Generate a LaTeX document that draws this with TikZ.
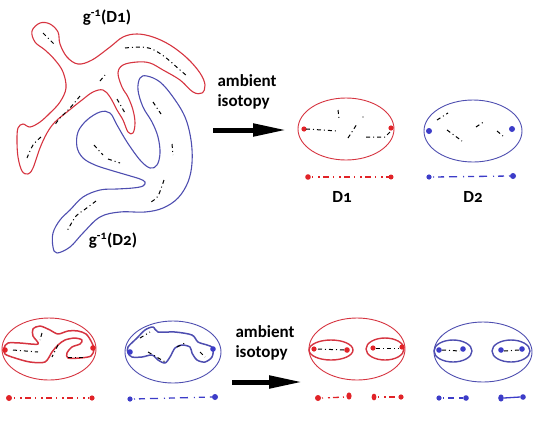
\documentclass[tikz,border=0pt]{standalone}
\usepackage{fontspec}
\setmainfont{Carlito}[Numbers=OldStyle]
\usetikzlibrary{arrows.meta}
\definecolor{dred}{RGB}{214,52,64}
\definecolor{dblue}{RGB}{78,78,176}
\definecolor{ddotred}{RGB}{225,35,40}
\definecolor{ddotblue}{RGB}{60,60,200}
\begin{document}
\begin{tikzpicture}[x=1pt,y=-1pt,
    lbl/.style={font=\fontsize{17}{20}\selectfont\bfseries, inner sep=0pt, align=left},
    redline/.style={draw=dred, line width=1.1pt, line join=round},
    blueline/.style={draw=dblue, line width=1.1pt, line join=round},
    inmark/.style={draw=black, line width=1pt, dash pattern=on 4pt off 3pt on 1pt off 3pt},
    redmark/.style={draw=ddotred, line width=1.3pt, dash pattern=on 1pt off 5pt on 2pt off 3pt on 6pt off 4pt},
    bluemark/.style={draw=ddotblue, line width=1.3pt, dash pattern=on 1pt off 4pt on 6pt off 5pt on 8pt off 6pt},
    bigarrow/.style={line width=5pt, -{Triangle[length=34pt,width=12pt]}}]
    \useasboundingbox (0,0) rectangle (540,421);
    % g^-1(D1)
    \draw[redline] plot[smooth cycle, tension=0.6] coordinates {(32,31) (40,23) (50,24) (58,32) (60,44) (67,57) (78,64) (92,60) (110,47) (123,37) (137,34) (153,37) (170,45) (187,58) (200,73) (205,85) (202,93) (193,92) (180,80) (163,70) (150,63) (137,62) (123,65) (118,73) (122,87) (128,97) (133,110) (135,123) (133,133) (128,132) (123,120) (117,110) (110,97) (103,90) (93,92) (82,100) (67,112) (55,122) (47,133) (40,148) (33,168) (28,174) (22,171) (18,157) (17,140) (18,128) (23,124) (30,127) (40,122) (50,113) (60,102) (66,88) (63,72) (55,60) (45,50) (35,42)};
    \draw[inmark] (43,33) -- (55,45);
    \draw[inmark] plot[smooth] coordinates {(125,48) (140,47) (152,49) (165,57) (180,70) (187,76)};
    \draw[inmark] (100,81) -- (105,75);
    \draw[inmark] plot[smooth] coordinates {(80,96) (70,108) (60,118) (54,126)};
    \draw[inmark] plot[smooth] coordinates {(41,137) (33,145) (27,158)};
    \draw[inmark] (117,99) -- (125,113);
    % g^-1(D2)
    \draw[blueline] plot[smooth cycle, tension=0.6] coordinates {(140,78) (147,76) (160,82) (173,97) (185,117) (191,140) (192,163) (188,182) (178,198) (163,208) (145,212) (120,212) (100,217) (83,233) (70,247) (57,253) (53,247) (53,233) (60,220) (70,210) (83,197) (100,190) (117,189) (133,188) (143,186) (145,182) (140,179) (127,175) (110,170) (95,165) (83,158) (77,147) (78,132) (87,120) (100,112) (110,113) (117,125) (127,142) (140,160) (150,168) (157,165) (160,153) (158,137) (152,122) (143,107) (138,90)};
    \draw[inmark] (153,102) -- (161,114);
    \draw[inmark] (172,144) -- (173,155);
    \draw[inmark] plot[smooth] coordinates {(164,180) (158,196) (151,202)};
    \draw[inmark] (94,145) -- (103,155);
    \draw[inmark] (108,159) -- (120,163);
    \draw[inmark] plot[smooth] coordinates {(96,201) (84,210) (76,216) (67,231)};
    \node[lbl] (gd1) at (107,18) {g\textsuperscript{-1}(D1)};
    \node[lbl] (gd2) at (113,241) {g\textsuperscript{-1}(D2)};
    % first isotopy
    \node[lbl] (amb1) at (247,92) {ambient\\isotopy};
    \coordinate (a1s) at (213,130);
    \coordinate (a1e) at (287,130);
    \draw[bigarrow] (a1s) -- (a1e);
    % D1 and D2
    \draw[draw=dred, line width=0.9pt] (346,129) ellipse [x radius=48pt, y radius=31pt];
    \fill[ddotred] (304,129) circle[radius=2.6pt] (391,128) circle[radius=2.6pt];
    \draw[inmark] (306,129) -- (338,131);
    \draw[inmark] (338,110) -- (339,118);
    \draw[inmark] (348,138) -- (357,124);
    \fill (363,117) circle[radius=0.6pt];
    \draw[inmark] (366,137) -- (385,137) -- (390,132);
    \draw[draw=dblue, line width=0.9pt] (473,131) ellipse [x radius=49pt, y radius=31pt];
    \fill[ddotblue] (429,131) circle[radius=3pt] (512,129) circle[radius=3pt];
    \draw[inmark] (437,120) -- (448,113);
    \draw[inmark] (447,130) -- (462,141);
    \draw[inmark] (476,127) -- (485,121);
    \draw[inmark] (497,131) -- (503,136);
    \fill[ddotred] (308,177) circle[radius=2.8pt] (391,177) circle[radius=2.5pt];
    \draw[redmark] (312,177) -- (389,177);
    \fill[ddotblue] (429,177) circle[radius=2.6pt] (513,176) circle[radius=3pt];
    \draw[bluemark] (433,177) -- (510,176);
    \node[lbl] (d1) at (342,197) {D1};
    \node[lbl] (d2) at (473,197) {D2};
    % bottom left: red
    \draw[draw=dred, line width=0.9pt] (49,349) ellipse [x radius=47pt, y radius=31pt];
    \draw[redline, line width=1.5pt] plot[smooth cycle, tension=0.5] coordinates {(4,348) (8,343) (20,343) (38,344) (33,336) (33,329) (40,326) (50,330) (58,334) (68,331) (78,331) (86,334) (91,341) (94,349) (91,356) (80,358) (68,358) (67,353) (72,347) (80,344) (82,340) (75,338) (65,340) (58,345) (52,352) (45,362) (30,362) (15,358) (5,354)};
    \fill[ddotred] (5,350) circle[radius=2.8pt] (93,348) circle[radius=2.8pt];
    \draw[inmark] (13,350) -- (38,352);
    \draw[inmark] (42,333) -- (40,340);
    \draw[inmark] (58,345) -- (52,357);
    \draw[inmark] (68,357) -- (85,357);
    \fill[ddotred] (9,398) circle[radius=3pt] (92,398) circle[radius=2.6pt];
    \draw[redmark] (14,398) -- (89,398);
    % bottom left: blue
    \draw[draw=dblue, line width=0.9pt] (173,352) ellipse [x radius=48pt, y radius=31pt];
    \draw[blueline, line width=1.5pt] plot[smooth cycle, tension=0.5] coordinates {(128,347) (137,338) (145,330) (153,327) (158,332) (175,332) (192,335) (198,342) (207,345) (213,348) (212,357) (205,362) (197,360) (192,353) (190,347) (182,345) (175,348) (170,357) (165,363) (158,360) (152,355) (142,357) (132,357) (128,353)};
    \fill[ddotblue] (130,352) circle[radius=2.8pt] (213,349) circle[radius=2.8pt];
    \draw[inmark] (140,338) -- (150,332);
    \draw[inmark] (148,352) -- (167,363);
    \draw[inmark] (177,347) -- (185,343);
    \draw[inmark] (200,352) -- (205,357);
    \fill[ddotblue] (130,399) circle[radius=2.6pt] (215,397) circle[radius=3pt];
    \draw[bluemark] (134,399) -- (212,397);
    % second isotopy
    \node[lbl] (amb2) at (265,343) {ambient\\isotopy};
    \coordinate (a2s) at (232,382);
    \coordinate (a2e) at (303,382);
    \draw[bigarrow] (a2s) -- (a2e);
    % bottom right: red
    \draw[draw=dred, line width=0.9pt] (357,349) ellipse [x radius=48pt, y radius=31pt];
    \draw[draw=dred, line width=1.4pt] (331,350) ellipse [x radius=22pt, y radius=10pt];
    \draw[draw=dred, line width=1.4pt] (385,349) ellipse [x radius=19pt, y radius=11pt];
    \fill[ddotred] (314,349) circle[radius=2.6pt] (347,350) circle[radius=2.8pt]
        (373,348) circle[radius=2.6pt] (402,347) circle[radius=2.6pt];
    \draw[inmark] (318,349) -- (344,350);
    \draw[inmark] (376,348) -- (399,348);
    \fill[ddotred] (318,398) circle[radius=3pt] (349,396) ellipse[x radius=2.6pt, y radius=3.6pt]
        (374,397) ellipse[x radius=2.4pt, y radius=3.4pt] (401,397) circle[radius=2.6pt];
    \draw[redmark] (322,398) -- (346,397);
    \draw[redmark] (378,397) -- (398,397);
    % bottom right: blue
    \draw[draw=dblue, line width=0.9pt] (483,352) ellipse [x radius=49pt, y radius=30pt];
    \draw[draw=dblue, line width=1.4pt] (453,351) ellipse [x radius=19pt, y radius=11pt];
    \draw[draw=dblue, line width=1.4pt] (511,351) ellipse [x radius=19pt, y radius=11pt];
    \fill[ddotblue] (439,350) circle[radius=2.8pt] (463,349) circle[radius=2.8pt]
        (501,350) circle[radius=2.8pt] (522,349) circle[radius=2.8pt];
    \draw[inmark] (442,350) -- (460,351);
    \draw[inmark] (504,351) -- (519,350);
    \fill[ddotblue] (439,398) circle[radius=2.6pt] (466,398) circle[radius=2.8pt]
        (501,398) ellipse[x radius=2.8pt, y radius=3.6pt] (523,397) circle[radius=2.8pt];
    \draw[bluemark] (443,398) -- (463,398);
    \draw[draw=ddotblue, line width=1.3pt] (504,398) -- (520,397);
\end{tikzpicture}
\end{document}
